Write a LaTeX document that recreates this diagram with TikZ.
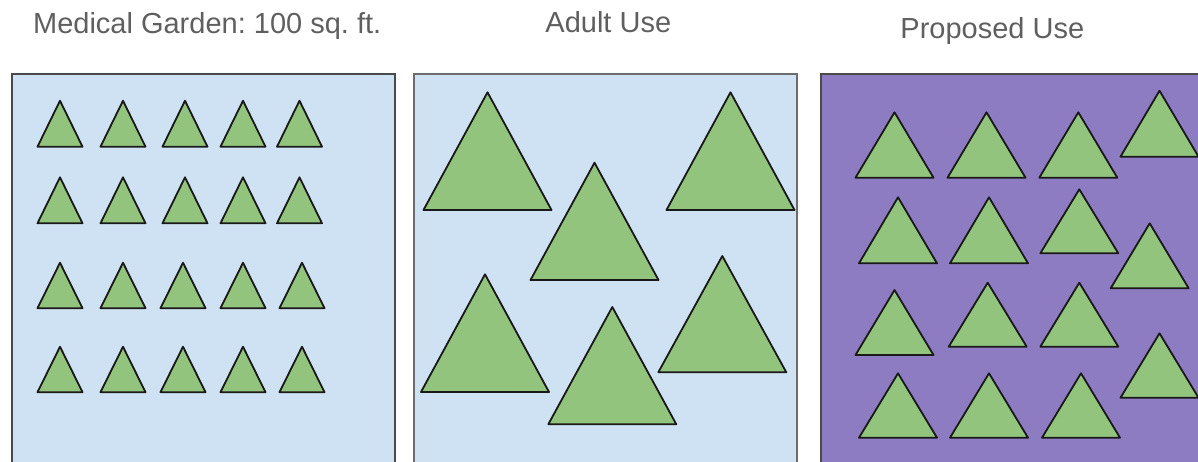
\documentclass[tikz,border=0pt]{standalone}
\usepackage{fontspec}
\setmainfont{Liberation Sans}
\frenchspacing
\definecolor{skyfill}{HTML}{CFE2F3}
\definecolor{lilac}{HTML}{8E7CC3}
\definecolor{leaf}{HTML}{93C47D}
\definecolor{titlegray}{HTML}{5F5F5F}
\definecolor{edgegray}{HTML}{4A4A4A}
\newcommand\trg[4]{\filldraw[tree] ({#1-#3},{#2+#4}) -- (#1,#2) -- ({#1+#3},{#2+#4}) -- cycle;}
\begin{document}
\begin{tikzpicture}[x=1pt,y=-1pt,
  tree/.style={fill=leaf,draw=black!90,line width=1.8pt,line join=round},
  panelbox/.style={draw=edgegray,line width=2pt},
  titletext/.style={text=titlegray,inner sep=0pt,anchor=base,font=\fontsize{29}{33}\selectfont}]
\useasboundingbox (0,0) rectangle (1198,462);
\clip (0,0) rectangle (1198,462);
% titles
\node[titletext] (t1) at (207.2,33.3) {Medical Garden: 100 sq. ft.};
\node[titletext] (t2) at (608.3,32.3) {Adult Use};
\node[titletext] (t3) at (992.3,38.3) {Proposed Use};
% panels
\filldraw[panelbox,fill=skyfill] (12,74) rectangle (394.5,500);
\filldraw[panelbox,fill=skyfill,draw=gray!85!black] (414,74) rectangle (797,500);
\filldraw[panelbox,fill=lilac] (821,74) rectangle (1230,500);
% panel 1
\foreach \y in {100.7,177.3}{
  \foreach \x in {60,123,185,243,299.5}{\trg{\x}{\y}{22.5}{46}}}
\foreach \y in {262.7,346.7}{
  \foreach \x in {60,123,183,243,302}{\trg{\x}{\y}{22.5}{45.5}}}
% panel 2
\trg{487.5}{92.3}{64}{117.7}
\trg{594.5}{162.7}{64}{117.3}
\trg{730.5}{92.3}{64}{117.7}
\trg{485}{274.3}{64}{117.7}
\trg{612.3}{307}{64}{117.3}
\trg{722.3}{256}{64}{116.3}
% panel 3
\trg{894.5}{112.3}{39}{65.4}
\trg{986.5}{112.3}{39}{65.4}
\trg{1078.3}{112.3}{39}{65.4}
\trg{1159.5}{90.7}{39}{66}
\trg{898}{197.3}{39}{66}
\trg{989}{197.3}{39}{66}
\trg{1079.3}{189.3}{39}{64}
\trg{1149.7}{223.3}{39}{65}
\trg{894.5}{290}{39}{65}
\trg{987.7}{282.7}{39}{64}
\trg{1079.3}{282.7}{39}{64}
\trg{898}{373.3}{39}{64.4}
\trg{989}{373.3}{39}{64.4}
\trg{1081}{373.3}{39}{64.4}
\trg{1159.5}{333.3}{39}{64.4}
\end{tikzpicture}
\end{document}
